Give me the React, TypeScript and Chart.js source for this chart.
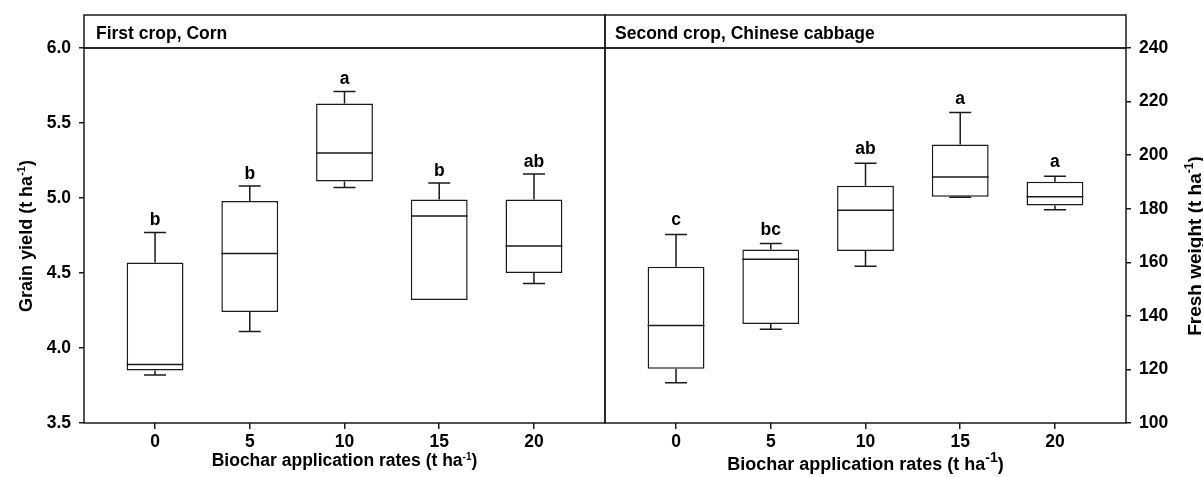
import React, { useEffect, useRef } from "react";
import { Chart, registerables } from "chart.js";

Chart.register(...registerables);

// ---------- data ----------
const rates = [0, 5, 10, 15, 20];

const cornMin = [3.82, 4.11, 5.07, 4.32, 4.43];
const cornQ1 = [3.85, 4.24, 5.11, 4.32, 4.5];
const cornMedian = [3.89, 4.63, 5.3, 4.88, 4.68];
const cornQ3 = [4.57, 4.98, 5.63, 4.99, 4.99];
const cornMax = [4.77, 5.08, 5.71, 5.1, 5.16];
const cornLetters = ["b", "b", "a", "b", "ab"];

const cabbageMin = [115.0, 135.0, 158.5, 184.3, 179.6];
const cabbageQ1 = [120.3, 137.0, 164.2, 184.5, 181.2];
const cabbageMedian = [136.4, 161.1, 179.4, 191.8, 184.5];
const cabbageQ3 = [158.3, 164.8, 188.6, 204.0, 190.1];
const cabbageMax = [170.4, 167.0, 197.0, 215.9, 192.1];
const cabbageLetters = ["c", "bc", "ab", "a", "a"];

const cornTicks = [3.5, 4.0, 4.5, 5.0, 5.5, 6.0];
const cabbageTicks = [100, 120, 140, 160, 180, 200, 220, 240];

// ---------- style ----------
const FONT = "'Liberation Sans', Arial, Helvetica, sans-serif";
const INK = "#1a1a1a";
const LW = 1.5;

type Panel = {
  title: string;
  min: number[];
  q1: number[];
  med: number[];
  q3: number[];
  max: number[];
  letters: string[];
  yTicks: number[];
  decimals: number;
  side: "left" | "right";
  canvasWidth: number;
  yAxisWidth: number;
  padLeft: number;
  padRight: number;
  xTitleBaseline: number;
  xTitleSize: number;
  xSupSize: number;
  xSupRaise: number;
  yTitle: string;
  yTitleBaselineX: number;
  yTitleCenterY: number;
  yTitleSize: number;
  ySupSize: number;
  ySupRaise: number;
  titleOffset: number;
  letterGap: number;
};

function drawSupText(
  ctx: CanvasRenderingContext2D,
  x: number,
  y: number,
  main: string,
  sup: string,
  tail: string,
  size: number,
  supSize: number,
  raise: number,
  rotate: boolean
) {
  ctx.save();
  ctx.translate(x, y);
  if (rotate) ctx.rotate(-Math.PI / 2);
  ctx.fillStyle = "#000";
  ctx.textBaseline = "alphabetic";
  ctx.textAlign = "left";
  const mainFont = `bold ${size}px ${FONT}`;
  const supFont = `bold ${supSize}px ${FONT}`;
  ctx.font = mainFont;
  const w1 = ctx.measureText(main).width;
  const w3 = ctx.measureText(tail).width;
  ctx.font = supFont;
  const w2 = ctx.measureText(sup).width;
  let cx = -(w1 + w2 + w3) / 2;
  ctx.font = mainFont;
  ctx.fillText(main, cx, 0);
  cx += w1;
  ctx.font = supFont;
  ctx.fillText(sup, cx, -raise);
  cx += w2;
  ctx.font = mainFont;
  ctx.fillText(tail, cx, 0);
  ctx.restore();
}

function makeConfig(p: Panel): any {
  const boxPlugin = {
    id: "boxDecor",
    afterDatasetsDraw(chart: any) {
      const ctx: CanvasRenderingContext2D = chart.ctx;
      const y = chart.scales.y;
      const meta = chart.getDatasetMeta(0);
      ctx.save();
      ctx.strokeStyle = INK;
      ctx.lineWidth = LW;
      meta.data.forEach((bar: any, i: number) => {
        const x = bar.x;
        const half = bar.width / 2;
        const cap = 11;
        const pMin = y.getPixelForValue(p.min[i]);
        const pQ1 = y.getPixelForValue(p.q1[i]);
        const pMed = y.getPixelForValue(p.med[i]);
        const pQ3 = y.getPixelForValue(p.q3[i]);
        const pMax = y.getPixelForValue(p.max[i]);
        ctx.beginPath();
        // median
        ctx.moveTo(x - half, pMed);
        ctx.lineTo(x + half, pMed);
        // upper whisker
        ctx.moveTo(x, pQ3);
        ctx.lineTo(x, pMax);
        ctx.moveTo(x - cap, pMax);
        ctx.lineTo(x + cap, pMax);
        // lower whisker
        if (p.min[i] < p.q1[i]) {
          ctx.moveTo(x, pQ1);
          ctx.lineTo(x, pMin);
          ctx.moveTo(x - cap, pMin);
          ctx.lineTo(x + cap, pMin);
        }
        ctx.stroke();
        // significance letters
        ctx.fillStyle = "#000";
        ctx.font = `bold 17.5px ${FONT}`;
        ctx.textAlign = "center";
        ctx.textBaseline = "alphabetic";
        ctx.fillText(p.letters[i], x, pMax - p.letterGap);
      });
      ctx.restore();
    },
    afterDraw(chart: any) {
      const ctx: CanvasRenderingContext2D = chart.ctx;
      const a = chart.chartArea;
      ctx.save();
      ctx.strokeStyle = INK;
      ctx.lineWidth = LW;
      // frame
      ctx.strokeRect(a.left, a.top, a.right - a.left, a.bottom - a.top);
      // header
      ctx.strokeRect(a.left, 15, a.right - a.left, a.top - 15);
      ctx.fillStyle = "#000";
      ctx.font = `bold 17.5px ${FONT}`;
      ctx.textAlign = "left";
      ctx.textBaseline = "alphabetic";
      ctx.fillText(p.title, a.left + p.titleOffset, 38.5);
      ctx.restore();
      // axis titles
      drawSupText(
        ctx,
        (a.left + a.right) / 2,
        p.xTitleBaseline,
        "Biochar application rates (t ha",
        "-1",
        ")",
        p.xTitleSize,
        p.xSupSize,
        p.xSupRaise,
        false
      );
      drawSupText(
        ctx,
        p.yTitleBaselineX,
        p.yTitleCenterY,
        p.yTitle,
        "-1",
        ")",
        p.yTitleSize,
        p.ySupSize,
        p.ySupRaise,
        true
      );
    },
  };

  const tickFont = { family: FONT, size: 17.5, weight: "bold" as const };

  return {
    type: "bar",
    data: {
      datasets: [
        {
          data: rates.map((r, i) => ({ x: r, y: [p.q1[i], p.q3[i]] })),
          backgroundColor: "#ffffff",
          borderColor: INK,
          borderWidth: LW,
          borderSkipped: false,
          barPercentage: 0.6,
          categoryPercentage: 1,
        },
      ],
    },
    options: {
      responsive: false,
      animation: false,
      devicePixelRatio: 1,
      layout: { padding: { top: 48, left: p.padLeft, right: p.padRight, bottom: 0 } },
      plugins: { legend: { display: false }, tooltip: { enabled: false }, title: { display: false } },
      scales: {
        x: {
          type: "linear",
          min: -3.75,
          max: 23.75,
          offset: false,
          grid: { display: true, drawOnChartArea: false, drawTicks: true, tickLength: 6, color: INK, lineWidth: LW, offset: false },
          border: { display: false },
          afterBuildTicks: (s: any) => {
            s.ticks = rates.map((v) => ({ value: v }));
          },
          afterFit: (s: any) => {
            s.height = 54;
          },
          ticks: { font: tickFont, color: "#000", padding: 3, maxRotation: 0, callback: (v: any) => String(v) },
        },
        y: {
          type: "linear",
          position: p.side,
          min: p.yTicks[0],
          max: p.yTicks[p.yTicks.length - 1],
          grid: { display: true, drawOnChartArea: false, drawTicks: true, tickLength: 5, color: INK, lineWidth: LW },
          border: { display: false },
          afterBuildTicks: (s: any) => {
            s.ticks = p.yTicks.map((v) => ({ value: v }));
          },
          afterFit: (s: any) => {
            s.width = p.yAxisWidth;
          },
          ticks: {
            font: tickFont,
            color: "#000",
            padding: 8,
            callback: (v: any) => Number(v).toFixed(p.decimals),
          },
        },
      },
    },
    plugins: [boxPlugin],
  };
}

const leftPanel: Panel = {
  title: "First crop, Corn",
  min: cornMin,
  q1: cornQ1,
  med: cornMedian,
  q3: cornQ3,
  max: cornMax,
  letters: cornLetters,
  yTicks: cornTicks,
  decimals: 1,
  side: "left",
  canvasWidth: 606,
  yAxisWidth: 84,
  padLeft: 0,
  padRight: 1,
  xTitleBaseline: 466,
  xTitleSize: 17.5,
  xSupSize: 10,
  xSupRaise: 6,
  yTitle: "Grain yield (t ha",
  yTitleBaselineX: 31.5,
  yTitleCenterY: 236,
  yTitleSize: 18,
  ySupSize: 11,
  ySupRaise: 7,
  titleOffset: 12,
  letterGap: 7.5,
};

const rightPanel: Panel = {
  title: "Second crop, Chinese cabbage",
  min: cabbageMin,
  q1: cabbageQ1,
  med: cabbageMedian,
  q3: cabbageQ3,
  max: cabbageMax,
  letters: cabbageLetters,
  yTicks: cabbageTicks,
  decimals: 0,
  side: "right",
  canvasWidth: 599,
  yAxisWidth: 77,
  padLeft: 1,
  padRight: 0,
  xTitleBaseline: 470,
  xTitleSize: 18,
  xSupSize: 14,
  xSupRaise: 8,
  yTitle: "Fresh weight (t ha",
  yTitleBaselineX: 597,
  yTitleCenterY: 246,
  yTitleSize: 19,
  ySupSize: 12,
  ySupRaise: 8,
  titleOffset: 10,
  letterGap: 9,
};

function PanelChart({ panel, left }: { panel: Panel; left: number }) {
  const ref = useRef<HTMLCanvasElement | null>(null);
  useEffect(() => {
    if (!ref.current) return;
    const chart = new Chart(ref.current, makeConfig(panel));
    return () => chart.destroy();
  }, [panel]);
  return (
    <canvas
      ref={ref}
      width={panel.canvasWidth}
      height={477}
      style={{ position: "absolute", left, top: 0, width: panel.canvasWidth, height: 477 }}
    />
  );
}

export default function App() {
  return (
    <div
      style={{
        position: "fixed",
        left: 0,
        top: 0,
        width: 1203,
        height: 477,
        background: "#ffffff",
        overflow: "hidden",
      }}
    >
      <PanelChart panel={leftPanel} left={0} />
      <PanelChart panel={rightPanel} left={604} />
    </div>
  );
}
